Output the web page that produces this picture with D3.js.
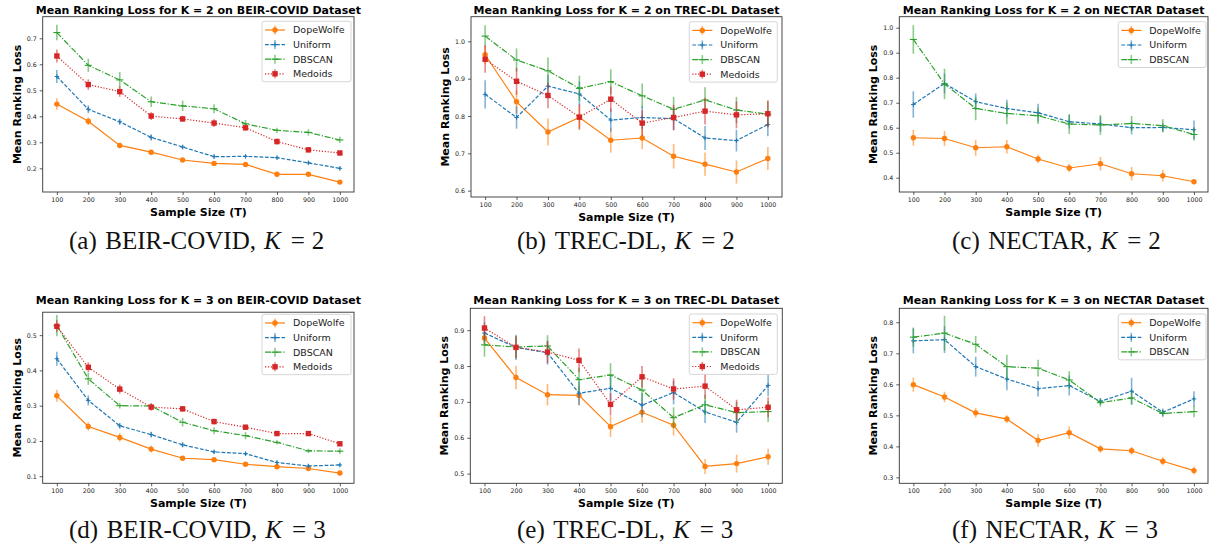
<!DOCTYPE html>
<html>
<head>
<meta charset="utf-8">
<script src="https://cdn.jsdelivr.net/npm/d3@7"></script>
<style>
body { margin: 0; background: #fff; }
svg  { display: block; }
</style>
</head>
<body>
<svg id="fig" width="1212" height="548"></svg>
<script>
// x values shared by every panel
var sampleSizes = [100, 200, 300, 400, 500, 600, 700, 800, 900, 1000];

// BEIR-COVID, K = 2
var covid2_dope       = [0.447, 0.381, 0.288, 0.262, 0.232, 0.219, 0.215, 0.177, 0.177, 0.147];
var covid2_dope_err   = [0.022, 0.015, 0.010, 0.008, 0.007, 0.007, 0.007, 0.006, 0.006, 0.005];
var covid2_unif       = [0.553, 0.427, 0.379, 0.319, 0.282, 0.245, 0.246, 0.241, 0.221, 0.200];
var covid2_unif_err   = [0.025, 0.015, 0.012, 0.012, 0.008, 0.008, 0.006, 0.006, 0.006, 0.006];
var covid2_dbscan     = [0.722, 0.596, 0.540, 0.456, 0.440, 0.429, 0.371, 0.346, 0.338, 0.309];
var covid2_dbscan_err = [0.030, 0.025, 0.030, 0.020, 0.020, 0.017, 0.015, 0.010, 0.012, 0.012];
var covid2_med        = [0.632, 0.522, 0.495, 0.401, 0.390, 0.374, 0.356, 0.303, 0.271, 0.259];
var covid2_med_err    = [0.025, 0.020, 0.020, 0.015, 0.012, 0.015, 0.012, 0.012, 0.010, 0.008];

// TREC-DL, K = 2
var trec2_dope        = [0.964, 0.838, 0.757, 0.796, 0.735, 0.741, 0.692, 0.671, 0.650, 0.686];
var trec2_dope_err    = [0.025, 0.030, 0.036, 0.030, 0.033, 0.030, 0.033, 0.031, 0.031, 0.031];
var trec2_unif        = [0.858, 0.796, 0.880, 0.859, 0.789, 0.796, 0.793, 0.741, 0.734, 0.777];
var trec2_unif_err    = [0.038, 0.030, 0.030, 0.033, 0.031, 0.030, 0.031, 0.032, 0.029, 0.031];
var trec2_dbscan      = [1.014, 0.950, 0.921, 0.874, 0.892, 0.854, 0.818, 0.843, 0.816, 0.805];
var trec2_dbscan_err  = [0.029, 0.031, 0.036, 0.034, 0.033, 0.033, 0.033, 0.034, 0.035, 0.034];
var trec2_med         = [0.952, 0.893, 0.855, 0.797, 0.845, 0.781, 0.796, 0.813, 0.803, 0.806];
var trec2_med_err     = [0.036, 0.036, 0.034, 0.034, 0.034, 0.034, 0.034, 0.036, 0.036, 0.036];

// NECTAR, K = 2
var nectar2_dope       = [0.560, 0.557, 0.520, 0.524, 0.475, 0.439, 0.456, 0.416, 0.408, 0.384];
var nectar2_dope_err   = [0.032, 0.030, 0.032, 0.027, 0.017, 0.017, 0.027, 0.027, 0.023, 0.007];
var nectar2_unif       = [0.693, 0.777, 0.704, 0.677, 0.660, 0.624, 0.615, 0.600, 0.601, 0.592];
var nectar2_unif_err   = [0.053, 0.040, 0.033, 0.035, 0.036, 0.027, 0.030, 0.027, 0.018, 0.037];
var nectar2_dbscan     = [0.953, 0.775, 0.677, 0.657, 0.648, 0.615, 0.611, 0.617, 0.608, 0.573];
var nectar2_dbscan_err = [0.057, 0.061, 0.047, 0.043, 0.033, 0.040, 0.040, 0.030, 0.026, 0.025];

// BEIR-COVID, K = 3
var covid3_dope       = [0.328, 0.241, 0.210, 0.177, 0.151, 0.147, 0.134, 0.127, 0.122, 0.109];
var covid3_dope_err   = [0.017, 0.012, 0.012, 0.010, 0.005, 0.005, 0.005, 0.005, 0.005, 0.005];
var covid3_unif       = [0.433, 0.315, 0.243, 0.218, 0.189, 0.169, 0.164, 0.139, 0.129, 0.132];
var covid3_unif_err   = [0.020, 0.014, 0.008, 0.008, 0.007, 0.005, 0.005, 0.005, 0.005, 0.005];
var covid3_dbscan     = [0.527, 0.376, 0.300, 0.299, 0.253, 0.229, 0.215, 0.196, 0.172, 0.171];
var covid3_dbscan_err = [0.030, 0.017, 0.008, 0.008, 0.012, 0.010, 0.010, 0.006, 0.006, 0.008];
var covid3_med        = [0.525, 0.409, 0.347, 0.296, 0.291, 0.255, 0.239, 0.221, 0.221, 0.192];
var covid3_med_err    = [0.017, 0.014, 0.013, 0.010, 0.008, 0.008, 0.007, 0.006, 0.006, 0.006];

// TREC-DL, K = 3
var trec3_dope        = [0.878, 0.768, 0.720, 0.718, 0.631, 0.671, 0.635, 0.520, 0.528, 0.547];
var trec3_dope_err    = [0.020, 0.033, 0.030, 0.028, 0.029, 0.029, 0.029, 0.021, 0.025, 0.022];
var trec3_unif        = [0.892, 0.852, 0.837, 0.724, 0.738, 0.691, 0.726, 0.672, 0.643, 0.746];
var trec3_unif_err    = [0.030, 0.035, 0.033, 0.033, 0.035, 0.033, 0.033, 0.031, 0.029, 0.030];
var trec3_dbscan      = [0.859, 0.853, 0.856, 0.762, 0.775, 0.733, 0.656, 0.692, 0.670, 0.673];
var trec3_dbscan_err  = [0.033, 0.030, 0.030, 0.033, 0.033, 0.033, 0.029, 0.028, 0.030, 0.029];
var trec3_med         = [0.906, 0.852, 0.839, 0.816, 0.693, 0.770, 0.736, 0.744, 0.678, 0.685];
var trec3_med_err     = [0.033, 0.031, 0.031, 0.033, 0.031, 0.030, 0.030, 0.035, 0.028, 0.028];

// NECTAR, K = 3
var nectar3_dope       = [0.599, 0.559, 0.508, 0.488, 0.419, 0.444, 0.392, 0.386, 0.352, 0.322];
var nectar3_dope_err   = [0.023, 0.017, 0.015, 0.012, 0.020, 0.020, 0.012, 0.012, 0.013, 0.013];
var nectar3_unif       = [0.740, 0.744, 0.657, 0.617, 0.586, 0.596, 0.545, 0.578, 0.510, 0.553];
var nectar3_unif_err   = [0.040, 0.043, 0.032, 0.036, 0.025, 0.032, 0.011, 0.043, 0.012, 0.025];
var nectar3_dbscan     = [0.752, 0.765, 0.729, 0.657, 0.652, 0.614, 0.541, 0.556, 0.506, 0.512];
var nectar3_dbscan_err = [0.031, 0.056, 0.027, 0.038, 0.027, 0.028, 0.013, 0.022, 0.012, 0.018];

// y tick labels per panel
var ticks_covid2  = [0.2, 0.3, 0.4, 0.5, 0.6, 0.7];
var ticks_trec2   = [0.6, 0.7, 0.8, 0.9, 1.0];
var ticks_nectar2 = [0.4, 0.5, 0.6, 0.7, 0.8, 0.9, 1.0];
var ticks_covid3  = [0.1, 0.2, 0.3, 0.4, 0.5];
var ticks_trec3   = [0.5, 0.6, 0.7, 0.8, 0.9];
var ticks_nectar3 = [0.3, 0.4, 0.5, 0.6, 0.7, 0.8];

// matplotlib tab10 colours and line styles
var style = {
	DopeWolfe: {color: "#ff7f0e", dash: null,            marker: "circle"},
	Uniform:   {color: "#1f77b4", dash: "3.8,1.7",       marker: "plus"},
	DBSCAN:    {color: "#2ca02c", dash: "6,1.7,1.2,1.7", marker: "hbar"},
	Medoids:   {color: "#d62728", dash: "1.2,1.7",       marker: "square"}
};

var panels = [
	{dataset: "BEIR-COVID", k: 2, letter: "a", left: 42.7, right: 354, top: 16.7, bottom: 192, titley: 13.5,
	 ydom: [0.109, 0.783], yticks: ticks_covid2, leg: [262, 21.3, 89], capx: 69, capy: 248.7,
	 series: [["DopeWolfe", covid2_dope, covid2_dope_err], ["Uniform", covid2_unif, covid2_unif_err],
		  ["DBSCAN", covid2_dbscan, covid2_dbscan_err], ["Medoids", covid2_med, covid2_med_err]]},
	{dataset: "TREC-DL", k: 2, letter: "b", left: 471, right: 782, top: 16.7, bottom: 197, titley: 13.5,
	 ydom: [0.583, 1.066], yticks: ticks_trec2, leg: [689.3, 21.7, 88], capx: 517, capy: 248.7,
	 series: [["DopeWolfe", trec2_dope, trec2_dope_err], ["Uniform", trec2_unif, trec2_unif_err],
		  ["DBSCAN", trec2_dbscan, trec2_dbscan_err], ["Medoids", trec2_med, trec2_med_err]]},
	{dataset: "NECTAR", k: 2, letter: "c", left: 899.3, right: 1208, top: 16.7, bottom: 192, titley: 13.5,
	 ydom: [0.343, 1.044], yticks: ticks_nectar2, leg: [1118.3, 21.7, 87.7], capx: 952, capy: 248.7,
	 series: [["DopeWolfe", nectar2_dope, nectar2_dope_err], ["Uniform", nectar2_unif, nectar2_unif_err],
		  ["DBSCAN", nectar2_dbscan, nectar2_dbscan_err]]},
	{dataset: "BEIR-COVID", k: 3, letter: "d", left: 42.7, right: 354, top: 312.2, bottom: 483.3, titley: 304,
	 ydom: [0.080, 0.565], yticks: ticks_covid3, leg: [262, 314.3, 89], capx: 69, capy: 538.3,
	 series: [["DopeWolfe", covid3_dope, covid3_dope_err], ["Uniform", covid3_unif, covid3_unif_err],
		  ["DBSCAN", covid3_dbscan, covid3_dbscan_err], ["Medoids", covid3_med, covid3_med_err]]},
	{dataset: "TREC-DL", k: 3, letter: "e", left: 470.3, right: 782.3, top: 308.3, bottom: 483.3, titley: 304,
	 ydom: [0.473, 0.961], yticks: ticks_trec3, leg: [689.3, 314, 88], capx: 517, capy: 538.3,
	 series: [["DopeWolfe", trec3_dope, trec3_dope_err], ["Uniform", trec3_unif, trec3_unif_err],
		  ["DBSCAN", trec3_dbscan, trec3_dbscan_err], ["Medoids", trec3_med, trec3_med_err]]},
	{dataset: "NECTAR", k: 3, letter: "f", left: 899.3, right: 1208, top: 308.3, bottom: 483.3, titley: 304,
	 ydom: [0.281, 0.845], yticks: ticks_nectar3, leg: [1118.3, 314, 87.7], capx: 952, capy: 538.3,
	 series: [["DopeWolfe", nectar3_dope, nectar3_dope_err], ["Uniform", nectar3_unif, nectar3_unif_err],
		  ["DBSCAN", nectar3_dbscan, nectar3_dbscan_err]]}
];

var svg   = d3.select("#fig");
var sans  = "'DejaVu Sans', sans-serif";
var serif = "'Liberation Serif', 'Times New Roman', serif";

function marker(g, type, color, cx, cy) {
	if (type == "circle") {
		g.append("circle").attr("cx", cx).attr("cy", cy).attr("r", 2.7).attr("fill", color);
	} else if (type == "square") {
		g.append("rect").attr("x", cx - 2.7).attr("y", cy - 2.7).attr("width", 5.4).attr("height", 5.4).attr("fill", color);
	} else if (type == "plus") {
		g.append("line").attr("x1", cx - 2.3).attr("x2", cx + 2.3).attr("y1", cy).attr("y2", cy)
			.attr("stroke", color).attr("stroke-width", 1);
		g.append("line").attr("x1", cx).attr("x2", cx).attr("y1", cy - 2.3).attr("y2", cy + 2.3)
			.attr("stroke", color).attr("stroke-width", 1);
	} else {
		g.append("line").attr("x1", cx - 3.5).attr("x2", cx + 3.5).attr("y1", cy).attr("y2", cy)
			.attr("stroke", color).attr("stroke-width", 1.1);
	}
}

panels.forEach(function(p) {
	var x = d3.scaleLinear().domain([55, 1045]).range([p.left, p.right]);
	var y = d3.scaleLinear().domain(p.ydom).range([p.bottom, p.top]);
	var g = svg.append("g");

	// axes
	var ax = g.append("g")
		.attr("transform", "translate(0," + p.bottom + ")")
		.call(d3.axisBottom(x).tickValues(sampleSizes).tickFormat(d3.format("d"))
		      .tickSize(3).tickPadding(2.5).tickSizeOuter(0));
	var ay = g.append("g")
		.attr("transform", "translate(" + p.left + ",0)")
		.call(d3.axisLeft(y).tickValues(p.yticks).tickFormat(d3.format(".1f"))
		      .tickSize(3).tickPadding(3).tickSizeOuter(0));
	[ax, ay].forEach(function(a) {
		a.select(".domain").remove();
		a.selectAll(".tick line").attr("stroke", "#333").attr("stroke-width", 0.8);
		a.selectAll(".tick text").attr("fill", "#222").style("font-family", sans).style("font-size", "6.3px");
	});

	// series: error bars, line, markers
	p.series.forEach(function(s) {
		var st  = style[s[0]];
		var pts = sampleSizes.map(function(t, i) { return {t: t, v: s[1][i], e: s[2][i]}; });
		var sg  = g.append("g");

		sg.selectAll(null).data(pts).enter().append("line")
			.attr("x1", function(d) { return x(d.t); })
			.attr("x2", function(d) { return x(d.t); })
			.attr("y1", function(d) { return y(d.v - d.e); })
			.attr("y2", function(d) { return y(d.v + d.e); })
			.attr("stroke", st.color).attr("stroke-width", 1.6).attr("opacity", 0.55);

		sg.append("path")
			.datum(pts)
			.attr("d", d3.line().x(function(d) { return x(d.t); }).y(function(d) { return y(d.v); }))
			.attr("fill", "none").attr("stroke", st.color).attr("stroke-width", 1.2)
			.attr("stroke-dasharray", st.dash);

		pts.forEach(function(d) { marker(sg, st.marker, st.color, x(d.t), y(d.v)); });
	});

	// frame
	g.append("rect")
		.attr("x", p.left).attr("y", p.top)
		.attr("width", p.right - p.left).attr("height", p.bottom - p.top)
		.attr("fill", "none").attr("stroke", "#333").attr("stroke-width", 0.9);

	// titles
	var cx = (p.left + p.right) / 2;
	g.append("text")
		.attr("x", cx).attr("y", p.titley)
		.attr("text-anchor", "middle")
		.style("font-family", sans).style("font-size", "11px").style("font-weight", "bold")
		.text("Mean Ranking Loss for K = " + p.k + " on " + p.dataset + " Dataset");
	g.append("text")
		.attr("x", cx).attr("y", p.bottom + 23.5)
		.attr("text-anchor", "middle")
		.style("font-family", sans).style("font-size", "11px").style("font-weight", "bold")
		.text("Sample Size (T)");
	g.append("text")
		.attr("transform", "translate(" + (p.left - 26) + "," + ((p.top + p.bottom) / 2) + ") rotate(-90)")
		.attr("text-anchor", "middle").attr("dy", "0.35em")
		.style("font-family", sans).style("font-size", "11px").style("font-weight", "bold")
		.text("Mean Ranking Loss");

	// legend
	var lx = p.leg[0], ly = p.leg[1], lw = p.leg[2];
	var rows = p.series.length;
	var lg = g.append("g");
	lg.append("rect")
		.attr("x", lx).attr("y", ly).attr("width", lw).attr("height", 2 + rows * 14.6)
		.attr("rx", 2).attr("fill", "#fff").attr("fill-opacity", 0.8)
		.attr("stroke", "#ccc").attr("stroke-width", 0.8);
	p.series.forEach(function(s, i) {
		var st = style[s[0]];
		var ry = ly + 8.7 + i * 14.6;
		lg.append("line").attr("x1", lx + 13).attr("x2", lx + 13).attr("y1", ry - 4.5).attr("y2", ry + 4.5)
			.attr("stroke", st.color).attr("stroke-width", 1.6).attr("opacity", 0.55);
		lg.append("line").attr("x1", lx + 3).attr("x2", lx + 23).attr("y1", ry).attr("y2", ry)
			.attr("stroke", st.color).attr("stroke-width", 1.2).attr("stroke-dasharray", st.dash);
		marker(lg, st.marker, st.color, lx + 13, ry);
		lg.append("text").attr("x", lx + 31).attr("y", ry).attr("dy", "0.35em")
			.style("font-family", sans).style("font-size", "9.5px").attr("fill", "#222")
			.text(s[0]);
	});

	// sub-figure caption, LaTeX-like spacing
	var cap = svg.append("text")
		.attr("x", p.capx).attr("y", p.capy)
		.style("font-family", serif).style("font-size", "25px").attr("fill", "#111");
	cap.append("tspan").text("(" + p.letter + ")");
	cap.append("tspan").attr("dx", 8.5).text(p.dataset + ",");
	cap.append("tspan").attr("dx", 8).style("font-style", "italic").text("K");
	cap.append("tspan").attr("dx", 10).text("=");
	cap.append("tspan").attr("dx", 7).text(p.k);
});
</script>
</body>
</html>
